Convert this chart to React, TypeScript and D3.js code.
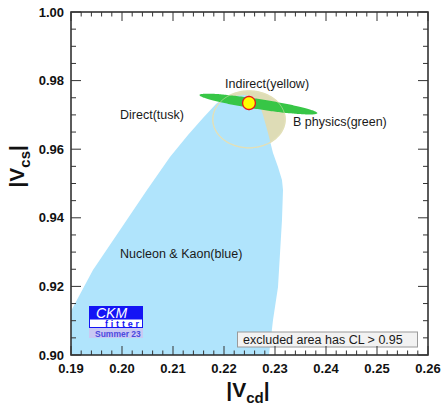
import React from "react";
import * as d3 from "d3";

// Axis ticks
const X_TICKS = [0.19, 0.2, 0.21, 0.22, 0.23, 0.24, 0.25, 0.26];
const Y_TICKS = [0.9, 0.92, 0.94, 0.96, 0.98, 1.0];

// Nucleon & Kaon constraint (outline, |Vcd| and |Vcs|)
const BLUE_VCD = [0.19, 0.19, 0.19431, 0.19961, 0.2049, 0.20941, 0.21294, 0.21588, 0.21843, 0.2202, 0.22412, 0.22667, 0.22765, 0.22863, 0.22961, 0.23059, 0.23137, 0.23157, 0.23137, 0.23059, 0.22961, 0.22882];
const BLUE_VCS = [0.9, 0.91283, 0.92478, 0.93644, 0.9481, 0.95773, 0.96414, 0.9691, 0.97318, 0.97522, 0.9758, 0.97434, 0.96997, 0.96472, 0.95889, 0.95481, 0.95102, 0.9481, 0.93936, 0.91983, 0.9102, 0.9];

// Direct (tusk) region: centre and half-widths
const TAN_CENTER = [0.2249, 0.9687];
const TAN_RADII = [0.0071, 0.0083];

// B physics region: ends of the long axis, half-width in |Vcs|
const GREEN_TIPS = [[0.2152, 0.9758], [0.2383, 0.9705]];
const GREEN_HALF_WIDTH = 0.00148;

// Indirect region: centre and half-widths
const YELLOW_CENTER = [0.2249, 0.97347];
const YELLOW_RADII = [0.00125, 0.0019];

const W = 441;
const H = 405;
const M = { left: 71, right: 428, top: 12, bottom: 355 };

const x = d3.scaleLinear().domain([0.19, 0.26]).range([M.left, M.right]);
const y = d3.scaleLinear().domain([0.9, 1.0]).range([M.bottom, M.top]);

const closedLine = d3.line<[number, number]>().curve(d3.curveLinearClosed);
const smoothClosed = d3.line<[number, number]>().curve(d3.curveCardinalClosed);

const angles = d3.range(0, Math.PI * 2, Math.PI / 60);

function dataEllipse(c: number[], r: number[]): string {
  const pts = angles.map((t) => [x(c[0] + r[0] * Math.cos(t)), y(c[1] + r[1] * Math.sin(t))] as [number, number]);
  return smoothClosed(pts) || "";
}

function tipsEllipse(tips: number[][], halfW: number): string {
  const p1 = [x(tips[0][0]), y(tips[0][1])];
  const p2 = [x(tips[1][0]), y(tips[1][1])];
  const cx = (p1[0] + p2[0]) / 2;
  const cy = (p1[1] + p2[1]) / 2;
  const ax = (p2[0] - p1[0]) / 2;
  const ay = (p2[1] - p1[1]) / 2;
  const len = Math.hypot(ax, ay);
  const b = Math.abs(y(0.95) - y(0.95 + halfW));
  const nx = (-ay / len) * b;
  const ny = (ax / len) * b;
  const pts = angles.map((t) => [cx + ax * Math.cos(t) + nx * Math.sin(t), cy + ay * Math.cos(t) + ny * Math.sin(t)] as [number, number]);
  return smoothClosed(pts) || "";
}

const FONT = "'Liberation Sans', Arial, Helvetica, sans-serif";

export default function App() {
  const bluePts = BLUE_VCD.map((v, i) => [x(v), y(BLUE_VCS[i])] as [number, number]);
  const tanPath = dataEllipse(TAN_CENTER, TAN_RADII);
  const greenPath = tipsEllipse(GREEN_TIPS, GREEN_HALF_WIDTH);
  const yellowPath = dataEllipse(YELLOW_CENTER, YELLOW_RADII);

  const xMinor = d3.range(0, 36).map((i) => 0.19 + i * 0.002);
  const yMinor = d3.range(0, 21).map((i) => 0.9 + i * 0.005);
  const tickColor = "#333";

  return (
    <svg width={W} height={H} style={{ position: "absolute", left: 0, top: 0, background: "#fff" }} fontFamily={FONT}>
      <rect x={0} y={0} width={W} height={H} fill="#fff" />

      {/* Direct (tusk) fill, then blue on top, then tusk outline */}
      <path d={tanPath} fill="#dedcb6" />
      <path d={closedLine(bluePts) || ""} fill="#b0e4fc" />
      <path d={tanPath} fill="none" stroke="#e6e2bd" strokeWidth={1.3} />
      <path d={greenPath} fill="#37c646" />
      <path d={tanPath} fill="none" stroke="#dcdcb0" strokeOpacity={0.55} strokeWidth={1} />
      <path d={yellowPath} fill="#ffff00" stroke="#e8141e" strokeWidth={1.3} />

      {/* region labels */}
      <g fontSize={12.5} fill="#1a1a1a">
        <text x={225} y={88}>Indirect(yellow)</text>
        <text x={293} y={126}>B physics(green)</text>
        <text x={120} y={119}>Direct(tusk)</text>
        <text x={120} y={258}>Nucleon &amp; Kaon(blue)</text>
      </g>

      {/* CL note */}
      <rect x={237.5} y={332} width={180} height={15} fill="#f2f2f2" stroke="#9a9a9a" strokeWidth={1} />
      <text x={243} y={344} fontSize={12.5} fill="#1a1a1a">excluded area has CL &gt; 0.95</text>

      {/* CKMfitter badge */}
      <g>
        <rect x={89} y={306} width={54} height={13} fill="#1414f5" />
        <text x={96} y={317.5} fontSize={14} fontStyle="italic" fill="#fff">CKM</text>
        <rect x={89.5} y={319} width={53} height={8.5} fill="#fff" stroke="#1414f5" strokeWidth={1} />
        <text x={105} y={327} fontSize={9} fontWeight="bold" letterSpacing={2.8} fill="#1414f5">fitter</text>
        <rect x={89} y={328} width={54} height={10} fill="#c9c9f3" />
        <text x={95} y={336.5} fontSize={8.5} fontWeight="bold" fill="#4a4ae0">Summer 23</text>
      </g>

      {/* frame and ticks */}
      <g stroke={tickColor}>
        {xMinor.map((v, i) => {
          const major = i % 5 === 0;
          const len = major ? 9 : 4.5;
          return (
            <g key={"xt" + i}>
              <line x1={x(v)} x2={x(v)} y1={M.bottom} y2={M.bottom - len} strokeWidth={1} />
              <line x1={x(v)} x2={x(v)} y1={M.top} y2={M.top + len} strokeWidth={1} />
            </g>
          );
        })}
        {yMinor.map((v, i) => {
          const major = i % 4 === 0;
          const len = major ? 10 : 5;
          return (
            <g key={"yt" + i}>
              <line x1={M.left} x2={M.left + len} y1={y(v)} y2={y(v)} strokeWidth={1} />
              <line x1={M.right} x2={M.right - len} y1={y(v)} y2={y(v)} strokeWidth={1} />
            </g>
          );
        })}
        <rect x={M.left} y={M.top} width={M.right - M.left} height={M.bottom - M.top} fill="none" strokeWidth={1.6} />
      </g>

      {/* tick labels */}
      <g fontSize={13} fontWeight="bold" fill="#111">
        {X_TICKS.map((v) => (
          <text key={"xl" + v} x={x(v)} y={373} textAnchor="middle">{v.toFixed(2)}</text>
        ))}
        {Y_TICKS.map((v) => (
          <text key={"yl" + v} x={64} y={y(v) + 4.5} textAnchor="end">{v.toFixed(2)}</text>
        ))}
      </g>

      {/* axis titles */}
      <text x={248} y={397} textAnchor="middle" fontWeight="bold" fontSize={21} fill="#111">
        |V<tspan fontSize={15} dy={6}>cd</tspan><tspan dy={-6}>|</tspan>
      </text>
      <text transform={`translate(24, ${y(0.955)}) rotate(-90)`} textAnchor="middle" fontWeight="bold" fontSize={21} fill="#111">
        |V<tspan fontSize={15} dy={6}>cs</tspan><tspan dy={-6}>|</tspan>
      </text>
    </svg>
  );
}
